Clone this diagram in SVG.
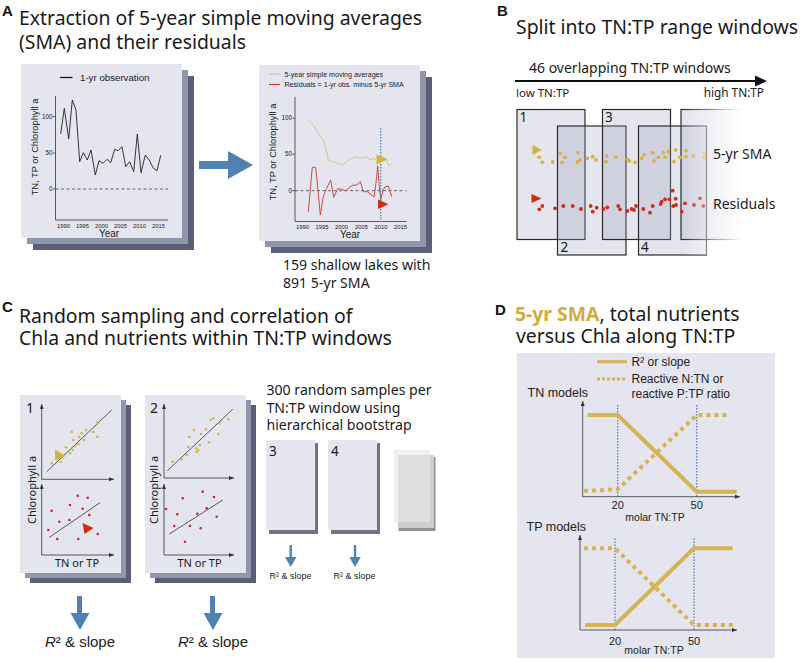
<svg xmlns="http://www.w3.org/2000/svg" width="800" height="662" viewBox="0 0 800 662">
<style>
.ttl{font-family:"Noto Sans","Open Sans",sans-serif;font-size:19.4px;fill:#1a1a1a}
.lab{font-family:"Liberation Sans",Arial,sans-serif;font-weight:bold;font-size:15px;fill:#111}
.ns{font-family:"Noto Sans","Open Sans",sans-serif;fill:#1a1a1a}
.ar{font-family:"Liberation Sans",Arial,sans-serif;fill:#222}
.front{fill:#e4e5ef}
.mid{fill:#9296ad}
.back{fill:#5a5e76}
.ax{stroke:#333;stroke-width:0.8;fill:none}
.blue{fill:#4f82b3}
.ydot{fill:#d6b443}
.rdot{fill:#cf2a1c}
.win{fill:#9799b8;fill-opacity:0.26;stroke:#2a2a2a;stroke-width:1.2}
.gold{stroke:#d6b453;stroke-width:4;fill:none}
.golddot{stroke:#d6b453;stroke-width:4;fill:none;stroke-dasharray:4 4}
.vdot{stroke:#5b80b8;stroke-width:1.3;stroke-dasharray:1.5 1.5;fill:none}
</style>
<defs>
<marker id="tip" markerWidth="6" markerHeight="6" refX="5" refY="3" orient="auto" markerUnits="userSpaceOnUse">
<path d="M0,1 L5,3 L0,5 Z" fill="#333"/>
</marker>
<linearGradient id="fade" x1="0" y1="0" x2="1" y2="0">
<stop offset="0" stop-color="#fff" stop-opacity="0"/>
<stop offset="0.75" stop-color="#fff" stop-opacity="1"/>
<stop offset="1" stop-color="#fff" stop-opacity="1"/>
</linearGradient>
</defs>

<!-- Panel A -->
<g id="panelA-title">
<text class="lab" x="2" y="16">A</text>
<text class="ttl" font-size="20"><tspan x="19" y="25">Extraction of 5-year simple moving averages</tspan><tspan x="19" y="49">(SMA) and their residuals</tspan></text>
</g>

<g id="cardA1">
<rect class="back" x="33" y="76" width="161" height="174"/>
<rect class="mid" x="27" y="70" width="161" height="174"/>
<rect class="front" x="21" y="64" width="161" height="174"/>
<line x1="60" y1="77.5" x2="72.5" y2="77.5" stroke="#111" stroke-width="1.3"/>
<text class="ar" x="80" y="80.5" font-size="9.7">1-yr observation</text>
<line class="ax" x1="55.5" y1="96" x2="55.5" y2="220"/>
<line class="ax" x1="55.5" y1="220" x2="168" y2="220"/>
<line x1="55.5" y1="189" x2="168" y2="189" stroke="#444" stroke-width="0.8" stroke-dasharray="3 2.5"/>
<g class="ax"><line x1="53" y1="116.5" x2="55.5" y2="116.5"/><line x1="53" y1="153" x2="55.5" y2="153"/><line x1="53" y1="189" x2="55.5" y2="189"/></g>
<g class="ar" font-size="6.3" text-anchor="end" fill="#333"><text x="52.5" y="118.5">100</text><text x="52.5" y="155">50</text><text x="52.5" y="191">0</text></g>
<g class="ar" font-size="5.8" text-anchor="middle" fill="#333"><text x="63.5" y="228">1990</text><text x="82.5" y="228">1995</text><text x="101.5" y="228">2000</text><text x="120.5" y="228">2005</text><text x="139.5" y="228">2010</text><text x="158.5" y="228">2015</text></g>
<text class="ar" x="109" y="237" font-size="10" text-anchor="middle">Year</text>
<text class="ar" font-size="9.3" text-anchor="middle" transform="translate(37.5,147) rotate(-90)">TN, TP or Chlorophyll a</text>
<polyline fill="none" stroke="#222" stroke-width="0.9" points="60.7,134 64.3,108.3 68.7,139 72.3,100 76,110 79.7,161.7 83.3,152.7 87.3,160 91,150 95.3,175 99,160.7 103,163.3 107,159.3 110.7,162.7 114.7,149.3 118,150.7 122,146.7 125.7,166.7 129.7,161.7 133.7,171.7 137.3,134 141,172.7 145.3,155 149.3,160 153,167.7 157,170.7 160.7,155.3"/>
</g>

<g id="arrowA">
<rect class="blue" x="199" y="161" width="31" height="8"/>
<polygon class="blue" points="228,151 228,179 253,165"/>
</g>

<g id="cardA2">
<rect class="back" x="271" y="77" width="161" height="176"/>
<rect class="mid" x="265" y="71" width="161" height="176"/>
<rect class="front" x="259" y="65" width="161" height="176"/>
<line x1="269" y1="74" x2="280" y2="74" stroke="#d8c68c" stroke-width="1.2"/>
<text class="ar" x="284.5" y="76.5" font-size="7.1" fill="#333">5-year simple moving averages</text>
<line x1="269" y1="84.5" x2="280" y2="84.5" stroke="#cf3a2a" stroke-width="1.2"/>
<text class="ar" x="284.5" y="87" font-size="7.1" fill="#333">Residuals = 1-yr obs. minus 5-yr SMA</text>
<line class="ax" x1="295" y1="97" x2="295" y2="221.5"/>
<line class="ax" x1="295" y1="221.5" x2="406.5" y2="221.5"/>
<line x1="295" y1="190.7" x2="406.5" y2="190.7" stroke="#444" stroke-width="0.8" stroke-dasharray="3 2.5"/>
<g class="ax"><line x1="292.5" y1="118.3" x2="295" y2="118.3"/><line x1="292.5" y1="154.3" x2="295" y2="154.3"/><line x1="292.5" y1="190.7" x2="295" y2="190.7"/></g>
<g class="ar" font-size="6.3" text-anchor="end" fill="#333"><text x="292" y="120.3">100</text><text x="292" y="156.3">50</text><text x="292" y="192.7">0</text></g>
<g class="ar" font-size="5.8" text-anchor="middle" fill="#333"><text x="302.5" y="229">1990</text><text x="322" y="229">1995</text><text x="341.5" y="229">2000</text><text x="361.5" y="229">2005</text><text x="381" y="229">2010</text><text x="400.5" y="229">2015</text></g>
<text class="ar" x="350" y="237.5" font-size="10" text-anchor="middle">Year</text>
<text class="ar" font-size="9.3" text-anchor="middle" transform="translate(275.5,152) rotate(-90)">TN, TP or Chlorophyll a</text>
<polyline fill="none" stroke="#d8c68c" stroke-width="1" points="308.3,120 313.3,125 318.3,133.3 323.3,140 326.7,151.7 328.3,160 332.3,161.7 337.7,163.3 342.3,165 346.7,161.7 351.7,158.3 356.7,156.7 361.7,158.3 366.7,156.7 371,160 373.3,158.3 376.7,160 380,158.3 383.3,156.7 386.7,160 389,166 392.3,163.3"/>
<polyline fill="none" stroke="#cf3a2a" stroke-width="0.9" points="308.3,211.7 312.3,167.3 315.7,167.3 318.3,193.3 320.3,215 323.3,196.7 326.7,188.3 330.7,180 333.7,197.3 337.7,188.7 341.7,189.3 345.7,190.7 350,186.7 354,185 356.7,185 360.3,181.7 363.3,191.7 367.7,191.7 371,195 374.3,196.7 376.7,176.7 377.7,166 379,183.3 380.7,200 383,190 385,186.7 388.3,186 391.7,196.7"/>
<line class="vdot" x1="380.7" y1="128" x2="380.7" y2="222"/>
<polygon fill="#d6b43a" points="376.5,154.5 376.5,164.5 387.5,159.5"/>
<polygon fill="#d42a12" points="378,199.5 378,209 388.5,204.3"/>
</g>
<text class="ns" font-size="14.1"><tspan x="283" y="270">159 shallow lakes with</tspan><tspan x="283" y="288">891 5-yr SMA</tspan></text>

<!-- Panel B -->
<g id="panelB-title">
<text class="lab" x="497" y="16">B</text>
<text class="ttl" x="516" y="34">Split into TN:TP range windows</text>
</g>
<g id="axisB">
<text class="ns" x="529" y="73" font-size="14">46 overlapping TN:TP windows</text>
<line x1="515" y1="81" x2="758" y2="81" stroke="#111" stroke-width="2"/>
<polygon fill="#111" points="755,75.5 767,81 755,86.5"/>
<text class="ns" x="516" y="97" font-size="11.5" fill="#2e4a34">low TN:TP</text>
<text class="ns" x="764" y="97" font-size="11.8" fill="#2e4a34" text-anchor="end">high TN:TP</text>
</g>
<g id="windows">
<rect class="win" x="517" y="109.5" width="68" height="130"/>
<rect class="win" x="557.5" y="126" width="68.5" height="129"/>
<rect class="win" x="602.5" y="109.5" width="68" height="130"/>
<rect class="win" x="638.5" y="126" width="68" height="129"/>
<rect class="win" x="681" y="109.5" width="80" height="130"/>
</g>
<g id="dotsB">
<polygon fill="#d6b43a" points="532.5,145 532.5,155 542,150"/>
<polygon fill="#cf2a12" points="531.5,194 531.5,203 541.5,198.5"/>
<g class="ydot">
<circle cx="539.3" cy="157.3" r="1.9"/><circle cx="542.3" cy="162.3" r="1.9"/><circle cx="552.7" cy="162" r="1.9"/><circle cx="560" cy="153.3" r="1.9"/><circle cx="562" cy="162.3" r="1.9"/><circle cx="565" cy="157.3" r="1.9"/><circle cx="578" cy="152.7" r="1.9"/><circle cx="580" cy="160" r="1.9"/><circle cx="577.3" cy="162" r="1.9"/><circle cx="587.3" cy="158.3" r="1.9"/><circle cx="592.7" cy="156.7" r="1.9"/><circle cx="596" cy="160" r="1.9"/><circle cx="606.7" cy="156" r="1.9"/><circle cx="606" cy="161.7" r="1.9"/><circle cx="616" cy="157.3" r="1.9"/><circle cx="627.3" cy="159.3" r="1.9"/><circle cx="629.3" cy="161" r="1.9"/><circle cx="635" cy="162.3" r="1.9"/><circle cx="641.7" cy="158.3" r="1.9"/><circle cx="644" cy="155" r="1.9"/><circle cx="652.7" cy="152.7" r="1.9"/><circle cx="654" cy="160.7" r="1.9"/><circle cx="658.3" cy="157.3" r="1.9"/><circle cx="663.3" cy="152.7" r="1.9"/><circle cx="665" cy="157.3" r="1.9"/><circle cx="668.3" cy="151.7" r="1.9"/><circle cx="674" cy="161.7" r="1.9"/><circle cx="675.7" cy="150" r="1.9"/><circle cx="680" cy="157.3" r="1.9"/><circle cx="686" cy="150.7" r="1.9"/><circle cx="686" cy="156.7" r="1.9"/><circle cx="693.3" cy="156" r="1.9"/><circle cx="704.3" cy="152.7" r="1.9"/><circle cx="704.3" cy="157.3" r="1.9"/>
</g>
<g class="rdot">
<circle cx="539.3" cy="209.3" r="1.9"/><circle cx="542.3" cy="206" r="1.9"/><circle cx="555" cy="208.3" r="1.9"/><circle cx="563.3" cy="206" r="1.9"/><circle cx="572.7" cy="206" r="1.9"/><circle cx="581" cy="209" r="1.9"/><circle cx="590.7" cy="206" r="1.9"/><circle cx="592.7" cy="211.7" r="1.9"/><circle cx="596.7" cy="207.7" r="1.9"/><circle cx="603.3" cy="209" r="1.9"/><circle cx="607.3" cy="207.3" r="1.9"/><circle cx="618.3" cy="206" r="1.9"/><circle cx="620" cy="209.3" r="1.9"/><circle cx="627.3" cy="211" r="1.9"/><circle cx="631.7" cy="209" r="1.9"/><circle cx="634" cy="210" r="1.9"/><circle cx="636" cy="206" r="1.9"/><circle cx="643.3" cy="209" r="1.9"/><circle cx="650" cy="212.7" r="1.9"/><circle cx="652.7" cy="206" r="1.9"/><circle cx="660.7" cy="204" r="1.9"/><circle cx="661.7" cy="201.7" r="1.9"/><circle cx="665" cy="199.3" r="1.9"/><circle cx="669.3" cy="199.3" r="1.9"/><circle cx="672.7" cy="190.7" r="1.9"/><circle cx="673.3" cy="206" r="1.9"/><circle cx="675.7" cy="198.7" r="1.9"/><circle cx="676" cy="205" r="1.9"/><circle cx="681.7" cy="211.7" r="1.9"/><circle cx="685" cy="203.3" r="1.9"/><circle cx="694" cy="205" r="1.9"/><circle cx="700" cy="198.3" r="1.9"/><circle cx="703.3" cy="206" r="1.9"/>
</g>
<rect x="682" y="105" width="80" height="150" fill="url(#fade)"/>
</g>
<g id="window-labels" class="ns" font-size="13.5">
<text x="519.5" y="121.5">1</text><text x="560.5" y="252">2</text><text x="605" y="121.5">3</text><text x="641" y="252">4</text>
</g>
<text class="ns" x="713" y="158.5" font-size="14">5-yr SMA</text>
<text class="ns" x="713" y="208.5" font-size="14">Residuals</text>

<!-- Panel C -->
<g id="panelC-title">
<text class="lab" x="2" y="312">C</text>
<text class="ttl"><tspan x="19" y="323">Random sampling and correlation of</tspan><tspan x="19" y="345">Chla and nutrients within TN:TP windows</tspan></text>
</g>

<g id="cardC1">
<rect class="back" x="30" y="405" width="101" height="178"/>
<rect class="mid" x="25" y="400" width="101" height="178"/>
<rect class="front" x="20" y="395" width="101" height="178"/>
<text class="ns" x="26" y="413" font-size="14">1</text>
<line class="ax" x1="41.7" y1="479.3" x2="41.7" y2="404" marker-end="url(#tip)"/>
<line class="ax" x1="41.7" y1="479.3" x2="114" y2="479.3" marker-end="url(#tip)"/>
<line x1="46.7" y1="471.7" x2="111.7" y2="410" stroke="#333" stroke-width="0.8"/>
<g class="ydot">
<circle cx="51.7" cy="463.3" r="1.3"/><circle cx="57.3" cy="459" r="1.3"/><circle cx="60.7" cy="461.7" r="1.3"/><circle cx="66" cy="447.3" r="1.3"/><circle cx="71.7" cy="431.7" r="1.3"/><circle cx="73.3" cy="440" r="1.3"/><circle cx="75" cy="446" r="1.3"/><circle cx="78.3" cy="444" r="1.3"/><circle cx="79.3" cy="436.7" r="1.3"/><circle cx="81.7" cy="433.3" r="1.3"/><circle cx="84" cy="440" r="1.3"/><circle cx="86" cy="430" r="1.3"/><circle cx="93.3" cy="431.7" r="1.3"/><circle cx="97.3" cy="436.7" r="1.3"/><circle cx="97.3" cy="423.3" r="1.3"/><circle cx="72.7" cy="450" r="1.3"/><circle cx="70" cy="453.3" r="1.3"/>
</g>
<polygon fill="#d6b43a" points="55,449.5 55,460 66,456"/>
<line class="ax" x1="41.7" y1="555" x2="41.7" y2="484" marker-end="url(#tip)"/>
<line class="ax" x1="41.7" y1="555" x2="114" y2="555" marker-end="url(#tip)"/>
<line x1="49.3" y1="537.3" x2="100" y2="502.7" stroke="#333" stroke-width="0.8"/>
<g class="rdot">
<circle cx="51.7" cy="510.7" r="1.3"/><circle cx="48.3" cy="530" r="1.3"/><circle cx="57.3" cy="539" r="1.3"/><circle cx="59.3" cy="521.7" r="1.3"/><circle cx="69.3" cy="520" r="1.3"/><circle cx="70" cy="505" r="1.3"/><circle cx="77.7" cy="495.7" r="1.3"/><circle cx="82.7" cy="508.7" r="1.3"/><circle cx="87.7" cy="497.7" r="1.3"/><circle cx="89.3" cy="515" r="1.3"/><circle cx="78.3" cy="539" r="1.3"/><circle cx="97.7" cy="534" r="1.3"/>
</g>
<polygon fill="#d42a12" points="82.5,523 84.5,534 93.5,528"/>
<text class="ns" font-size="11" text-anchor="middle" transform="translate(36,490) rotate(-90)">Chlorophyll a</text>
<text class="ns" x="77" y="566.5" font-size="11" text-anchor="middle">TN or TP</text>
</g>

<g id="cardC2">
<rect class="back" x="155" y="405" width="101" height="178"/>
<rect class="mid" x="150" y="400" width="101" height="178"/>
<rect class="front" x="145" y="395" width="101" height="178"/>
<text class="ns" x="150" y="413" font-size="14">2</text>
<line class="ax" x1="164" y1="478" x2="164" y2="404" marker-end="url(#tip)"/>
<line class="ax" x1="164" y1="478" x2="234" y2="478" marker-end="url(#tip)"/>
<line x1="167.3" y1="470.7" x2="232.7" y2="409.3" stroke="#333" stroke-width="0.8"/>
<g class="ydot">
<circle cx="172.7" cy="461.7" r="1.3"/><circle cx="181.7" cy="459.3" r="1.3"/><circle cx="186.7" cy="455" r="1.3"/><circle cx="188.3" cy="446.7" r="1.3"/><circle cx="189.3" cy="436.7" r="1.3"/><circle cx="194" cy="430" r="1.3"/><circle cx="196" cy="448.3" r="1.3"/><circle cx="196.7" cy="451.7" r="1.3"/><circle cx="200" cy="445" r="1.3"/><circle cx="201" cy="434" r="1.3"/><circle cx="206" cy="429.3" r="1.3"/><circle cx="209" cy="442.3" r="1.3"/><circle cx="213.3" cy="418.3" r="1.3"/><circle cx="218.3" cy="434" r="1.3"/><circle cx="219.3" cy="423.3" r="1.3"/><circle cx="228.3" cy="419.3" r="1.3"/><circle cx="210.7" cy="420" r="1.3"/><circle cx="198.3" cy="450" r="1.3"/>
</g>
<line class="ax" x1="164" y1="555" x2="164" y2="484" marker-end="url(#tip)"/>
<line class="ax" x1="164" y1="555" x2="234" y2="555" marker-end="url(#tip)"/>
<line x1="169.3" y1="534" x2="222.7" y2="500" stroke="#333" stroke-width="0.8"/>
<g class="rdot">
<circle cx="166" cy="509" r="1.3"/><circle cx="174.3" cy="526" r="1.3"/><circle cx="177.3" cy="514.3" r="1.3"/><circle cx="182.7" cy="498.3" r="1.3"/><circle cx="185" cy="541.7" r="1.3"/><circle cx="190" cy="526" r="1.3"/><circle cx="197.3" cy="513.7" r="1.3"/><circle cx="200.7" cy="528.3" r="1.3"/><circle cx="202.7" cy="491.7" r="1.3"/><circle cx="206.7" cy="508.3" r="1.3"/><circle cx="214" cy="497" r="1.3"/><circle cx="216.7" cy="516.7" r="1.3"/>
</g>
<text class="ns" font-size="11" text-anchor="middle" transform="translate(158,490) rotate(-90)">Chlorophyll a</text>
<text class="ns" x="199.5" y="566.5" font-size="11" text-anchor="middle">TN or TP</text>
</g>

<text class="ns" font-size="14.1"><tspan x="266.5" y="395">300 random samples per</tspan><tspan x="266.5" y="412.5">TN:TP window using</tspan><tspan x="266.5" y="430">hierarchical bootstrap</tspan></text>

<g id="cardC3">
<rect x="269" y="443" width="49" height="91" fill="#6f7389"/>
<rect class="front" x="266" y="440" width="49" height="90"/>
<text class="ns" x="269" y="456" font-size="13.5">3</text>
</g>
<g id="cardC4">
<rect x="331" y="443" width="49" height="91" fill="#6f7389"/>
<rect class="front" x="328" y="440" width="49" height="90"/>
<text class="ns" x="331" y="456" font-size="13.5">4</text>
</g>
<g id="cardC5">
<rect x="398.5" y="457" width="37" height="74" fill="#929292"/>
<rect x="398" y="455" width="36" height="73" fill="#cdcdcd"/>
<rect x="394" y="450" width="36" height="72" fill="#e6e6e6" fill-opacity="0.65"/>
</g>

<g id="connectors">
<rect class="blue" x="77" y="596" width="5" height="19"/>
<polygon class="blue" points="70.5,613 89.5,613 80,630"/>
<rect class="blue" x="210" y="596" width="5" height="19"/>
<polygon class="blue" points="203.5,613 222.5,613 213,630"/>
<rect class="blue" x="289.5" y="545" width="2.4" height="13"/>
<polygon class="blue" points="285,557 296.5,557 290.7,567"/>
<rect class="blue" x="353.8" y="545" width="2.4" height="13"/>
<polygon class="blue" points="349.3,557 360.8,557 355,567"/>
</g>
<text class="ar" x="80" y="647" font-size="15" text-anchor="middle" fill="#111"><tspan font-style="italic">R</tspan>² &amp; slope</text>
<text class="ar" x="213" y="647" font-size="15" text-anchor="middle" fill="#111"><tspan font-style="italic">R</tspan>² &amp; slope</text>
<text class="ar" x="290.5" y="578.5" font-size="9" text-anchor="middle" fill="#111">R² &amp; slope</text>
<text class="ar" x="354.5" y="578.5" font-size="9" text-anchor="middle" fill="#111">R² &amp; slope</text>

<!-- Panel D -->
<g id="panelD-title">
<text class="lab" x="495" y="315">D</text>
<text class="ttl"><tspan x="515" y="321"><tspan fill="#d4aa3c" font-weight="bold">5-yr SMA</tspan>, total nutrients</tspan><tspan x="516" y="343">versus Chla along TN:TP</tspan></text>
</g>
<g id="panelD">
<rect x="517" y="353" width="258" height="305" fill="#e4e5ef"/>
<line x1="597" y1="361.7" x2="627" y2="361.7" stroke="#d6b453" stroke-width="3"/>
<text class="ar" x="631.5" y="365.5" font-size="12">R² or slope</text>
<line x1="597" y1="379" x2="627" y2="379" stroke="#d6b453" stroke-width="3" stroke-dasharray="3 2"/>
<text class="ar" font-size="12"><tspan x="631.5" y="382.5">Reactive N:TN or</tspan><tspan x="631.5" y="398">reactive P:TP ratio</tspan></text>
<text class="ar" x="527.5" y="397" font-size="12.5">TN models</text>
<line class="vdot" x1="617.7" y1="405" x2="617.7" y2="496.5"/>
<line class="vdot" x1="696.7" y1="405" x2="696.7" y2="496.5"/>
<line class="ax" x1="582.7" y1="496.7" x2="582.7" y2="401" marker-end="url(#tip)"/>
<line class="ax" x1="582.7" y1="496.7" x2="740" y2="496.7" marker-end="url(#tip)"/>
<polyline class="gold" points="587.7,415 617.7,415 696.7,491.7 736.7,491.7"/>
<polyline class="golddot" points="584,491 617.7,489.3 696.7,415 730,415"/>
<text class="ar" x="617.7" y="508.5" font-size="11" text-anchor="middle">20</text>
<text class="ar" x="696.7" y="508.5" font-size="11" text-anchor="middle">50</text>
<text class="ar" x="655" y="520.5" font-size="10.5" text-anchor="middle">molar TN:TP</text>
<text class="ar" x="526.5" y="530.5" font-size="12.5">TP models</text>
<line class="vdot" x1="615" y1="538.5" x2="615" y2="630"/>
<line class="vdot" x1="694" y1="538.5" x2="694" y2="630"/>
<line class="ax" x1="580" y1="630" x2="580" y2="535" marker-end="url(#tip)"/>
<line class="ax" x1="580" y1="630" x2="737" y2="630" marker-end="url(#tip)"/>
<polyline class="gold" points="585,625 615,625 694,548.3 732.7,548.3"/>
<polyline class="golddot" points="584,548.3 615,548.3 694,625 732.7,625"/>
<text class="ar" x="615" y="644.5" font-size="11" text-anchor="middle">20</text>
<text class="ar" x="694" y="644.5" font-size="11" text-anchor="middle">50</text>
<text class="ar" x="654" y="654" font-size="10.5" text-anchor="middle">molar TN:TP</text>
</g>
</svg>
